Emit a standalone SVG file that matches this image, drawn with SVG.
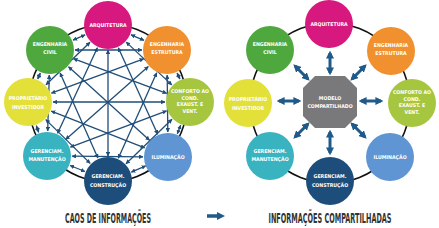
<svg xmlns="http://www.w3.org/2000/svg" width="439" height="228" viewBox="0 0 439 228">
<style>
.lbl{font-family:"Liberation Sans Narrow","DejaVu Sans Condensed","Liberation Sans",sans-serif;font-weight:bold;font-size:5.2px;fill:#fff;text-anchor:middle;dominant-baseline:central}
.cap{font-family:"Liberation Sans Narrow","DejaVu Sans Condensed","Liberation Sans",sans-serif;font-weight:bold;font-size:8px;fill:#333;text-anchor:middle}
.ring{fill:none;stroke:#111;stroke-width:1.6}
.bl{stroke:#1f4e79;stroke-width:1.3;marker-start:url(#ah);marker-end:url(#ah)}
.ba{stroke:#1f5a8a;stroke-width:3;marker-start:url(#bh);marker-end:url(#bh)}
</style>
<defs>
<marker id="ah" viewBox="0 0 10 10" refX="9" refY="5" markerWidth="4.5" markerHeight="4.5" markerUnits="userSpaceOnUse" orient="auto-start-reverse"><path d="M0,0 L10,5 L0,10 z" fill="#1f4e79"/></marker>
<marker id="bh" viewBox="0 0 10 10" refX="7" refY="5" markerWidth="8" markerHeight="8" markerUnits="userSpaceOnUse" orient="auto-start-reverse"><path d="M0,0 L10,5 L0,10 z" fill="#1f5a8a"/></marker>
</defs>
<rect width="439" height="228" fill="#fff"/>
<g id="connectors">
<circle class="ring" cx="108" cy="103" r="79"/>
<circle class="ring" cx="330" cy="103" r="80"/>
<line class="bl" x1="85.1" y1="34.9" x2="73" y2="40.1"/>
<line class="bl" x1="131" y1="34.8" x2="144" y2="40.3"/>
<line class="bl" x1="90" y1="42.3" x2="46" y2="84.7"/>
<line class="bl" x1="126.2" y1="42.1" x2="171.8" y2="84.9"/>
<line class="bl" x1="97.4" y1="47.7" x2="57.6" y2="133.3"/>
<line class="bl" x1="118.3" y1="47.8" x2="157.7" y2="134.2"/>
<line class="bl" x1="108" y1="50" x2="108" y2="156"/>
<line class="bl" x1="75" y1="50" x2="142" y2="50"/>
<line class="bl" x1="40.3" y1="73" x2="37.7" y2="79"/>
<line class="bl" x1="73.4" y1="58.7" x2="166.6" y2="93.3"/>
<line class="bl" x1="49.3" y1="75" x2="47.7" y2="131"/>
<line class="bl" x1="68.5" y1="66.8" x2="149.5" y2="140.2"/>
<line class="bl" x1="60.1" y1="72.9" x2="97.9" y2="158.1"/>
<line class="bl" x1="143.6" y1="58.8" x2="51.4" y2="93.2"/>
<line class="bl" x1="177.1" y1="72.9" x2="179.9" y2="79.1"/>
<line class="bl" x1="148.3" y1="66.6" x2="65.7" y2="139.4"/>
<line class="bl" x1="167.2" y1="75" x2="167.8" y2="132"/>
<line class="bl" x1="156.7" y1="72.8" x2="118.3" y2="158.2"/>
<line class="bl" x1="53" y1="102" x2="165" y2="102"/>
<line class="bl" x1="36.3" y1="125.6" x2="38.7" y2="132.4"/>
<line class="bl" x1="51.3" y1="111.1" x2="144.7" y2="147.9"/>
<line class="bl" x1="45.8" y1="119.6" x2="90.2" y2="163.4"/>
<line class="bl" x1="166.6" y1="110.8" x2="70.4" y2="147.2"/>
<line class="bl" x1="180.7" y1="125.2" x2="177.3" y2="133.8"/>
<line class="bl" x1="172" y1="119.3" x2="126" y2="163.7"/>
<line class="bl" x1="72" y1="156.2" x2="143" y2="156.8"/>
<line class="bl" x1="70.1" y1="165.5" x2="84.9" y2="171.5"/>
<line class="bl" x1="145.7" y1="165.9" x2="131.3" y2="172.1"/>
<line class="ba" x1="330" y1="73" x2="330" y2="53"/>
<line class="ba" x1="308" y1="79" x2="295" y2="66"/>
<line class="ba" x1="352" y1="79" x2="365" y2="66"/>
<line class="ba" x1="299" y1="101" x2="279" y2="101"/>
<line class="ba" x1="361" y1="101" x2="381" y2="101"/>
<line class="ba" x1="308" y1="124" x2="295" y2="137"/>
<line class="ba" x1="330" y1="132" x2="330" y2="153"/>
<line class="ba" x1="352" y1="124" x2="365" y2="137"/>
</g>
<g id="left-arquitetura"><circle cx="108" cy="25" r="24" fill="#d6187f"/><text class="lbl" x="108" y="25">ARQUITETURA</text></g>
<g id="left-civil"><circle cx="50" cy="50" r="24" fill="#4fa83d"/><text class="lbl" x="50" y="44">ENGENHARIA</text><text class="lbl" x="50" y="52">CIVIL</text></g>
<g id="left-estrutura"><circle cx="167" cy="50" r="24" fill="#f0902e"/><text class="lbl" x="167" y="44">ENGENHARIA</text><text class="lbl" x="167" y="52">ESTRUTURA</text></g>
<g id="left-proprietario"><circle cx="28" cy="102" r="24" fill="#e4e03a"/><text class="lbl" x="28" y="98">PROPRIETÁRIO</text><text class="lbl" x="28" y="106.5">INVESTIDOR</text></g>
<g id="left-conforto"><circle cx="190" cy="102" r="24" fill="#a7c63f"/><text class="lbl" x="190" y="91">CONFORTO AO</text><text class="lbl" x="190" y="97.5">COND.</text><text class="lbl" x="190" y="104">EXAUST. E</text><text class="lbl" x="190" y="110.5">VENT.</text></g>
<g id="left-manutencao"><circle cx="47" cy="156" r="24" fill="#39b3c0"/><text class="lbl" x="47" y="150.5">GERENCIAM.</text><text class="lbl" x="47" y="159">MANUTENÇÃO</text></g>
<g id="left-iluminacao"><circle cx="168" cy="157" r="24" fill="#5e95d2"/><text class="lbl" x="168" y="157">ILUMINAÇÃO</text></g>
<g id="left-construcao"><circle cx="108" cy="181" r="24" fill="#1d4e7b"/><text class="lbl" x="108" y="176">GERENCIAM.</text><text class="lbl" x="108" y="184.5">CONSTRUÇÃO</text></g>
<g id="right-arquitetura"><circle cx="329" cy="24" r="24" fill="#d6187f"/><text class="lbl" x="329" y="24">ARQUITETURA</text></g>
<g id="right-civil"><circle cx="270" cy="50" r="24" fill="#4fa83d"/><text class="lbl" x="270" y="44">ENGENHARIA</text><text class="lbl" x="270" y="52">CIVIL</text></g>
<g id="right-estrutura"><circle cx="391" cy="51" r="24" fill="#f0902e"/><text class="lbl" x="391" y="45">ENGENHARIA</text><text class="lbl" x="391" y="53">ESTRUTURA</text></g>
<g id="right-proprietario"><circle cx="248" cy="103" r="24" fill="#e4e03a"/><text class="lbl" x="248" y="99">PROPRIETÁRIO</text><text class="lbl" x="248" y="107.5">INVESTIDOR</text></g>
<g id="right-conforto"><circle cx="412" cy="103" r="24" fill="#a7c63f"/><text class="lbl" x="412" y="92">CONFORTO AO</text><text class="lbl" x="412" y="98.5">COND.</text><text class="lbl" x="412" y="105">EXAUST. E</text><text class="lbl" x="412" y="111.5">VENT.</text></g>
<g id="right-manutencao"><circle cx="270" cy="156" r="24" fill="#39b3c0"/><text class="lbl" x="270" y="150.5">GERENCIAM.</text><text class="lbl" x="270" y="159">MANUTENÇÃO</text></g>
<g id="right-iluminacao"><circle cx="390" cy="157" r="24" fill="#5e95d2"/><text class="lbl" x="390" y="157">ILUMINAÇÃO</text></g>
<g id="right-construcao"><circle cx="330" cy="181" r="24" fill="#1d4e7b"/><text class="lbl" x="330" y="176">GERENCIAM.</text><text class="lbl" x="330" y="184.5">CONSTRUÇÃO</text></g>
<g id="modelo"><polygon points="315,76 345,76 357,88 357,116 345,128 315,128 303,116 303,88" fill="#79797b"/><text class="lbl" x="330" y="98">MODELO</text><text class="lbl" x="330" y="106">COMPARTILHADO</text></g>
<g id="legend">
<text class="cap" transform="translate(108,223) scale(1,1.65)" x="0" y="0" textLength="86" lengthAdjust="spacingAndGlyphs">CAOS DE INFORMAÇÕES</text>
<text class="cap" transform="translate(330,223) scale(1,1.65)" x="0" y="0" textLength="123" lengthAdjust="spacingAndGlyphs">INFORMAÇÕES COMPARTILHADAS</text>
<line x1="207" y1="216" x2="218" y2="216" stroke="#1f5a8a" stroke-width="3.5"/>
<path d="M217,212 L225,216 L217,220 z" fill="#1f5a8a"/>
</g>
</svg>
